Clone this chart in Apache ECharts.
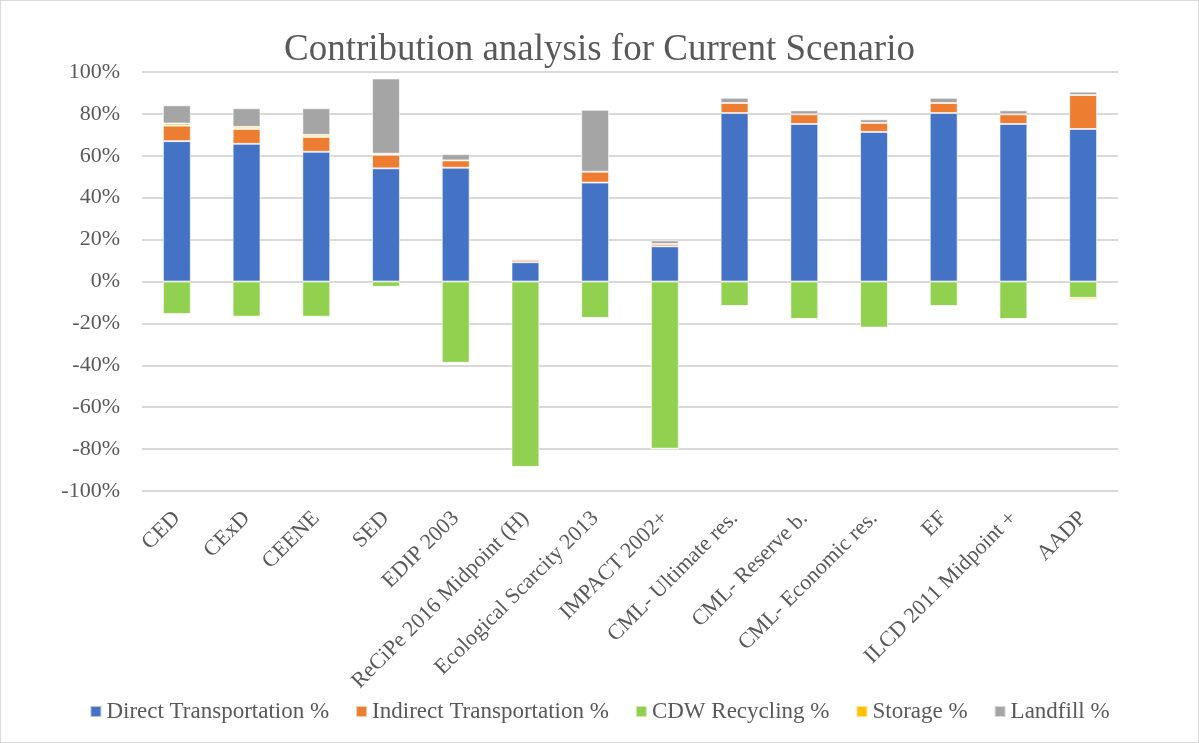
<!DOCTYPE html>
<html>
<head>
<meta charset="utf-8">
<script src="https://cdn.jsdelivr.net/npm/echarts@6/dist/echarts.min.js"></script>
<style>
  html, body { margin: 0; padding: 0; background: #fff; }
  #chart { width: 1197px; height: 741px; border: 1px solid #d9d9d9; }
</style>
</head>
<body>
<div id="chart"></div>
<script>
const categories = [
  'CED', 'CExD', 'CEENE', 'SED', 'EDIP 2003', 'ReCiPe 2016 Midpoint (H)',
  'Ecological Scarcity 2013', 'IMPACT 2002+', 'CML- Ultimate res.',
  'CML- Reserve b.', 'CML- Economic res.', 'EF', 'ILCD 2011 Midpoint +', 'AADP'
]

const directTransport = [67, 65.7, 61.9, 54, 54.3, 9.2, 47.2, 16.8, 80.4, 75.2, 71.4, 80.4, 75.2, 72.8]
const indirectTransport = [7.4, 7.1, 7.1, 6.5, 3.5, 1.1, 5.2, 1.1, 4.8, 4.6, 4.3, 4.8, 4.6, 16.2]
const cdwRecycling = [-15.5, -16.8, -16.8, -2.5, -38.8, -88.5, -17.4, -79.8, -11.7, -17.9, -22, -11.7, -17.9, -7.8]
const storage = [1, 1, 1, 0.5, 0, 0, 0, 0, 0, 0, 0, 0, 0, -0.9]
const landfill = [8.7, 8.9, 12.7, 35.9, 3, 0.6, 29.6, 1.7, 2.5, 1.9, 1.7, 2.5, 1.9, 1.6]

const seriesNames = ['Direct Transportation %', 'Indirect Transportation %', 'CDW Recycling %', 'Storage %', 'Landfill %']
const seriesData = [directTransport, indirectTransport, cdwRecycling, storage, landfill]
const colors = ['#4472c4', '#ed7d31', '#92d050', '#ffc000', '#a5a5a5']

const font = 'Liberation Serif'
const chart = echarts.init(document.getElementById('chart'), null, { renderer: 'canvas' })

const option = {
  animation: false,
  backgroundColor: '#fff',
  color: colors,
  title: {
    text: 'Contribution analysis for Current Scenario',
    left: 'center',
    top: 26,
    textStyle: { fontFamily: font, fontSize: 37, fontWeight: 'normal', color: '#595959' }
  },
  legend: {
    bottom: 14,
    left: 'center',
    itemWidth: 11,
    itemHeight: 11,
    itemGap: 26,
    icon: 'rect',
    textStyle: { fontFamily: font, fontSize: 23, color: '#595959' }
  },
  grid: { left: 141, right: 80, top: 71, bottom: 251, containLabel: false },
  xAxis: {
    type: 'category',
    data: categories,
    position: 'bottom',
    axisLine: { show: false, onZero: false },
    axisTick: { show: false },
    axisLabel: {
      rotate: 45,
      interval: 0,
      margin: 24,
      fontFamily: font,
      fontSize: 22,
      color: '#595959'
    }
  },
  yAxis: {
    type: 'value',
    min: -100,
    max: 100,
    interval: 20,
    axisLabel: {
      formatter: '{value}%',
      fontFamily: font,
      fontSize: 22,
      color: '#595959',
      margin: 22
    },
    axisLine: { show: false },
    axisTick: { show: false },
    splitLine: { lineStyle: { color: '#d9d9d9', width: 2 } }
  },
  series: seriesNames.map((name, i) => ({
    name,
    type: 'bar',
    stack: 'total',
    barWidth: '40%',
    data: seriesData[i],
    itemStyle: { borderColor: 'rgba(255,255,255,0.6)', borderWidth: 1 }
  }))
}

chart.setOption(option)
</script>
</body>
</html>
